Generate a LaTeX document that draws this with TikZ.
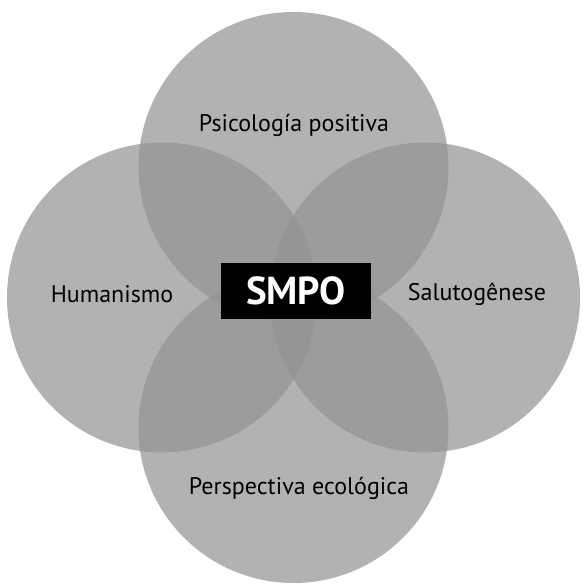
\documentclass[tikz,border=0pt]{standalone}
\usepackage{fontspec}
\setmainfont{PT Sans}
\usetikzlibrary{positioning}
\definecolor{petal}{RGB}{146,146,146}

\begin{document}
\begin{tikzpicture} [x=1pt,y=-1pt]
\tikzset{
  petal/.style={fill=petal, fill opacity=0.7},
  lbl/.style={font=\fontsize{24}{28}\selectfont, text=black, inner sep=0pt},
  core/.style={fill=black, text=white, minimum width=150pt, minimum height=56pt, inner sep=0pt, font=\fontsize{39}{44}\bfseries}
}
\useasboundingbox (0,0) rectangle (582,586);

\foreach \cx/\cy in {293.5/167, 162/297.5, 425/297.5, 293.5/428}
\fill[petal] (\cx,\cy) circle (155);

\node[lbl] (psico) at (294,125) {Psicología positiva};
\node[lbl] (human) at (112,294) {Humanismo};
\node[lbl] (saluto) at (477,294) {Salutogênese};
\node[lbl] (persp) at (299,488) {Perspectiva ecológica};

\node[core] (smpo) at (296,291) {SMPO};

\end{tikzpicture}
\end{document}
